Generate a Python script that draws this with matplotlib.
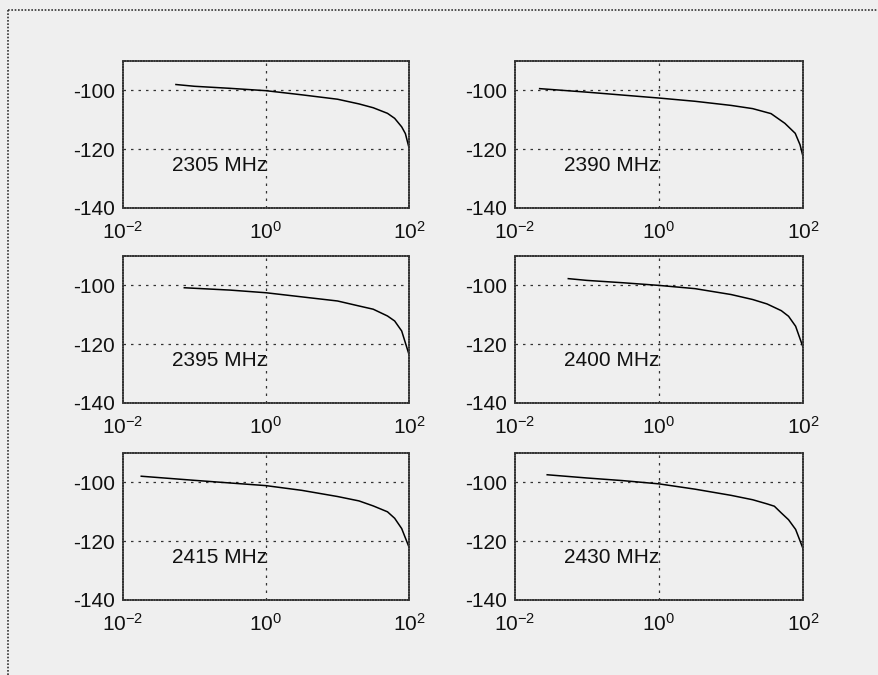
import matplotlib.pyplot as plt
from matplotlib.lines import Line2D

plt.rcParams['font.family'] = ['Liberation Sans', 'DejaVu Sans']
plt.rcParams['mathtext.fontset'] = 'custom'
plt.rcParams['mathtext.rm'] = 'Liberation Sans'
plt.rcParams['mathtext.it'] = 'Liberation Sans'
plt.rcParams['mathtext.default'] = 'regular'

# frequency labels, one per panel (row by row)
freqs = ["2305 MHz", "2390 MHz", "2395 MHz", "2400 MHz", "2415 MHz", "2430 MHz"]

# curves: x (log axis), y in dB
x_2305 = [0.055, 0.1, 0.316, 1, 3.16, 10, 20, 31.6, 50, 63, 79, 89, 100]
y_2305 = [-98.0, -98.6, -99.3, -100.1, -101.5, -103.0, -104.6, -105.9, -107.8, -109.5, -112.4, -114.7, -119.5]

x_2390 = [0.022, 0.1, 1, 3.16, 10, 20, 36, 56, 78, 91, 100]
y_2390 = [-99.4, -100.6, -102.6, -103.7, -105.1, -106.2, -107.9, -111.2, -114.6, -118.5, -122.5]

x_2395 = [0.072, 0.316, 1, 10, 20, 31.6, 50, 63, 79, 100]
y_2395 = [-100.8, -101.6, -102.5, -105.3, -107.0, -108.1, -110.4, -112.1, -115.5, -123.5]

x_2400 = [0.055, 0.1, 0.316, 1, 3.16, 10, 20, 31.6, 50, 63, 79, 100]
y_2400 = [-97.7, -98.3, -99.1, -100.0, -101.1, -103.1, -104.8, -106.3, -108.6, -110.5, -113.9, -121.0]

x_2415 = [0.018, 0.1, 1, 3.16, 10, 20, 31.6, 50, 63, 79, 100]
y_2415 = [-97.9, -99.3, -101.1, -102.7, -104.8, -106.3, -108.0, -110.0, -112.2, -115.7, -122.0]

x_2430 = [0.028, 0.1, 0.316, 1, 3.16, 10, 20, 31.6, 40, 50, 63, 79, 100]
y_2430 = [-97.4, -98.5, -99.4, -100.5, -102.3, -104.4, -105.9, -107.3, -108.1, -110.4, -112.7, -116.0, -122.5]

curves = [(x_2305, y_2305), (x_2390, y_2390), (x_2395, y_2395),
          (x_2400, y_2400), (x_2415, y_2415), (x_2430, y_2430)]

y_ticks = [-140, -120, -100]
y_labels = ["-140", "-120", "-100"]
x_ticks = [1e-2, 1e0, 1e2]
x_labels = [r"$10^{-2}$", r"$10^{0}$", r"$10^{2}$"]

W, H = 879, 675
bg = '#efefef'
fig = plt.figure(figsize=(W / 100, H / 100), dpi=100, facecolor=bg)

# outer frame of the scanned figure (top and left edge only)
fig.add_artist(Line2D([8 / W, 1], [1 - 10 / H, 1 - 10 / H], color='#333333', lw=1.2, ls=(0, (1, 1))))
fig.add_artist(Line2D([8 / W, 8 / W], [1 - 10 / H, 0], color='#333333', lw=1.2, ls=(0, (1, 1))))

lefts = [123, 515]
tops = [61, 256, 453]
widths = [286, 288]
height = 147

for i, (xs, ys) in enumerate(curves):
    row, col = divmod(i, 2)
    ax = fig.add_axes([lefts[col] / W, 1 - (tops[row] + height) / H, widths[col] / W, height / H])
    ax.set_facecolor(bg)
    ax.plot(xs, ys, color='black', lw=1.1)
    ax.set_xscale('log')
    ax.set_xlim(1e-2, 1e2)
    ax.set_ylim(-140, -90)
    ax.set_xticks(x_ticks)
    ax.set_xticklabels(x_labels, fontsize=15)
    ax.minorticks_off()
    ax.set_yticks(y_ticks)
    ax.set_yticklabels(y_labels, fontsize=15)
    ax.tick_params(length=0, colors='#111111')
    ax.tick_params(axis='x', pad=9)
    ax.tick_params(axis='y', pad=6)
    # grid lines
    for yv in [-100, -120]:
        ax.axhline(yv, color='#333333', lw=0.9, ls=(0, (2, 4)), zorder=1)
    ax.axvline(1, color='#333333', lw=0.9, ls=(0, (2, 4)), zorder=1)
    for sp in ax.spines.values():
        sp.set_color('#333333')
        sp.set_linewidth(1.2)
        sp.set_linestyle((0, (1, 0.6)))
    ax.text(0.17, 0.29, freqs[i], transform=ax.transAxes, fontsize=15,
            ha='left', va='center', color='#111111')

fig.savefig('out.png', dpi=100, facecolor=bg)
